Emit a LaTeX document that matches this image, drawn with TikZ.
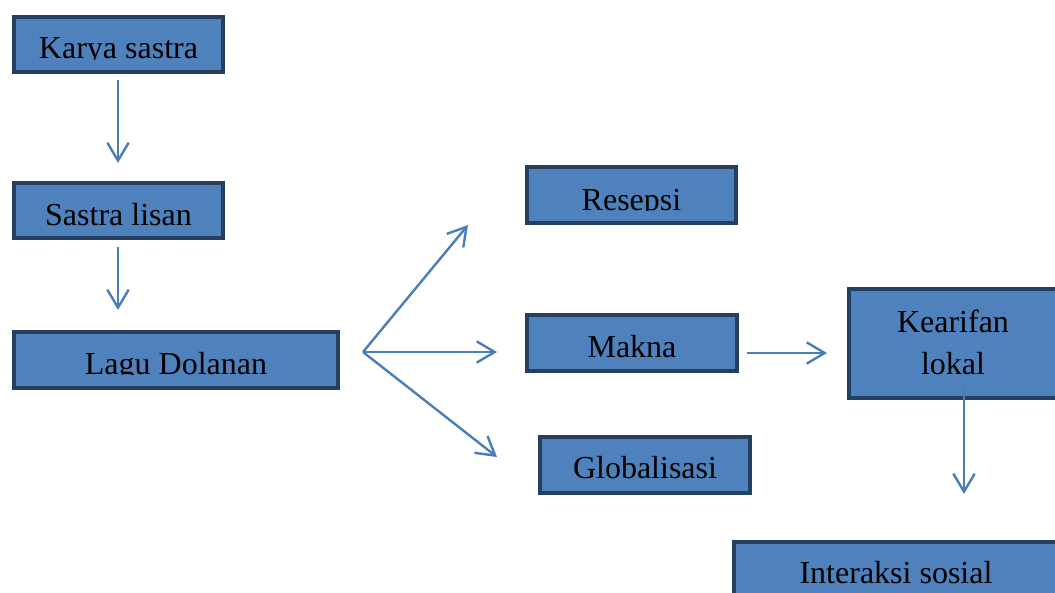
\documentclass[tikz,border=0pt]{standalone}
\usepackage{fontspec}
\setmainfont{Liberation Serif}
\usetikzlibrary{arrows.meta}
\definecolor{boxfill}{HTML}{4F81BD}
\definecolor{boxline}{HTML}{243F60}
\definecolor{arrowc}{HTML}{4A7EBB}
\tikzset{
  box/.style={draw=boxline, fill=boxfill, line width=3pt, rectangle, inner sep=0pt},
  lbl/.style={anchor=base, inner sep=0pt, font=\fontsize{24}{28}\selectfont, text=black},
  conn/.style={draw=arrowc, line width=1.8pt, -{Straight Barb[length=13.5pt, width=16pt, line width=1.8pt]}},
}
\begin{document}
\begin{tikzpicture}[x=0.75pt, y=-0.75pt]
\useasboundingbox (0,0) rectangle (1055,592);
% boxes
\node[box, minimum width=156.75pt, minimum height=41.25pt] (karya) at (118.5,44.5) {};
\node[box, minimum width=156.75pt, minimum height=41.25pt] (sastra) at (118.5,210.5) {};
\node[box, minimum width=243pt, minimum height=42pt] (lagu) at (176,360) {};
\node[box, minimum width=156.75pt, minimum height=42pt] (resepsi) at (631.5,195) {};
\node[box, minimum width=157.5pt, minimum height=42pt] (makna) at (632,343) {};
\node[box, minimum width=157.5pt, minimum height=42pt] (global) at (645,465) {};
\node[box, minimum width=156pt, minimum height=81.75pt] (kearifan) at (953,343.5) {};
\node[box, minimum width=243pt, minimum height=42pt] (interaksi) at (896,570) {};
% labels (clipped at baseline like the original)
\begin{scope}\clip (12,15) rectangle (225,59.5);
\node[lbl] (karyaT) at (118.5,59) {Karya sastra};\end{scope}
\node[lbl] (sastraT) at (118.5,225) {Sastra lisan};
\begin{scope}\clip (12,330) rectangle (340,374.5);
\node[lbl] (laguT) at (176,374) {Lagu Dolanan};\end{scope}
\begin{scope}\clip (525,165) rectangle (738,210.5);
\node[lbl] (resepsiT) at (631.5,210) {Resepsi};\end{scope}
\node[lbl] (maknaT) at (632,357) {Makna};
\node[lbl] (globalT) at (645,478) {Globalisasi};
\node[lbl] (kearifanT1) at (953,332) {Kearifan};
\node[lbl] (kearifanT2) at (953,374) {lokal};
\node[lbl] (interaksiT) at (896,583) {Interaksi sosial};
% connector end points
\coordinate (a1s) at (118,80);  \coordinate (a1e) at (118,163);
\coordinate (a2s) at (118,247); \coordinate (a2e) at (118,310);
\coordinate (fan) at (363,352);
\coordinate (fanUp) at (468,225);
\coordinate (fanMid) at (497,352);
\coordinate (fanDn) at (497,457);
\coordinate (a3s) at (747,353); \coordinate (a3e) at (827,353);
\coordinate (a4s) at (964,387); \coordinate (a4e) at (964,494);
% connectors
\draw[conn] (a1s) -- (a1e);
\draw[conn] (a2s) -- (a2e);
\draw[conn] (fan) -- (fanUp);
\draw[conn] (fan) -- (fanMid);
\draw[conn] (fan) -- (fanDn);
\draw[conn] (a3s) -- (a3e);
\draw[conn] (a4s) -- (a4e);
\end{tikzpicture}
\end{document}
